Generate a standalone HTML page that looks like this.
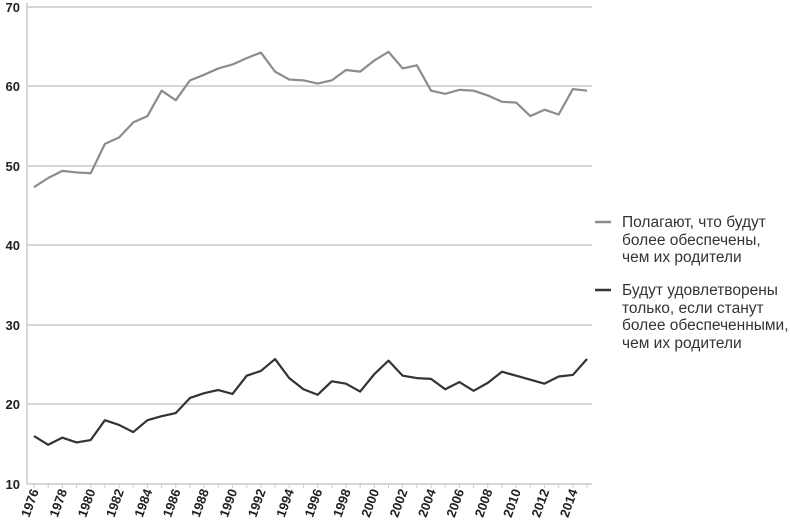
<!DOCTYPE html>
<html><head><meta charset="utf-8"><style>
body{margin:0;background:#fff;width:790px;height:525px;overflow:hidden}
svg{display:block}
.yl{font:bold 13px "Liberation Sans",sans-serif;fill:#222}
.xl{font:bold 13px "Liberation Sans",sans-serif;fill:#222}
.lg{font:15.5px "Liberation Sans",sans-serif;fill:#333}
</style></head><body>
<svg width="790" height="525" viewBox="0 0 790 525">
<g stroke="#d6d6d6" stroke-width="2">
<line x1="27" y1="7" x2="592" y2="7"/>
<line x1="27" y1="86" x2="592" y2="86"/>
<line x1="27" y1="166" x2="592" y2="166"/>
<line x1="27" y1="245" x2="592" y2="245"/>
<line x1="27" y1="325" x2="592" y2="325"/>
<line x1="27" y1="404" x2="592" y2="404"/>
<line x1="27" y1="484" x2="592" y2="484"/>
<line x1="27" y1="3" x2="27" y2="484"/>
</g>
<g class="yl" text-anchor="end">
<text x="20" y="12">70</text><text x="20" y="91">60</text><text x="20" y="171">50</text>
<text x="20" y="250">40</text><text x="20" y="330">30</text><text x="20" y="409">20</text><text x="20" y="489">10</text>
</g>
<g id="ticks" stroke="#ccc" stroke-width="1"></g>
<g id="xl" class="xl"></g>
<polyline id="up" fill="none" stroke="#8c8c8c" stroke-width="2.2" stroke-linejoin="round"/>
<polyline id="lo" fill="none" stroke="#333" stroke-width="2.2" stroke-linejoin="round"/>
<line x1="595" y1="222" x2="611" y2="222" stroke="#8c8c8c" stroke-width="2.5"/>
<line x1="595" y1="290" x2="611" y2="290" stroke="#333" stroke-width="2.5"/>
<g class="lg">
<text x="622" y="227">Полагают, что будут</text>
<text x="622" y="245">более обеспечены,</text>
<text x="622" y="262">чем их родители</text>
<text x="622" y="295">Будут удовлетворены</text>
<text x="622" y="313">только, если станут</text>
<text x="622" y="330">более обеспеченными,</text>
<text x="622" y="348">чем их родители</text>
</g>
</svg>
<script>
var up=[47.35,48.5,49.4,49.2,49.1,52.8,53.6,55.5,56.3,59.5,58.3,60.8,61.5,62.3,62.8,63.6,64.3,61.9,60.9,60.8,60.4,60.8,62.1,61.9,63.3,64.4,62.3,62.7,59.5,59.1,59.6,59.5,58.9,58.1,58.0,56.3,57.1,56.5,59.7,59.5];
var lo=[16.0,14.9,15.8,15.2,15.5,18.0,17.4,16.5,18.0,18.5,18.9,20.8,21.4,21.8,21.3,23.6,24.2,25.7,23.3,21.9,21.2,22.9,22.6,21.6,23.8,25.5,23.6,23.3,23.2,21.9,22.8,21.7,22.7,24.1,23.6,23.1,22.6,23.5,23.7,25.7];
function X(i){return 34+14.18*i}function Y(v){return 7.3+(70-v)*7.94}
document.getElementById('up').setAttribute('points',up.map((v,i)=>X(i)+','+Y(v)).join(' '));
document.getElementById('lo').setAttribute('points',lo.map((v,i)=>X(i)+','+Y(v)).join(' '));
var ns='http://www.w3.org/2000/svg',g=document.getElementById('xl'),t=document.getElementById('ticks');
for(var i=0;i<40;i++){var l=document.createElementNS(ns,'line');l.setAttribute('x1',X(i));l.setAttribute('x2',X(i));l.setAttribute('y1',484);l.setAttribute('y2',488);t.appendChild(l);
if(i%2==0){var tx=document.createElementNS(ns,'text');var x=X(i)+5,y=491;tx.setAttribute('x',x);tx.setAttribute('y',y);tx.setAttribute('text-anchor','end');tx.setAttribute('transform','rotate(-70 '+x+' '+y+')');tx.textContent=1976+i;g.appendChild(tx);}}
</script>
</body></html>
